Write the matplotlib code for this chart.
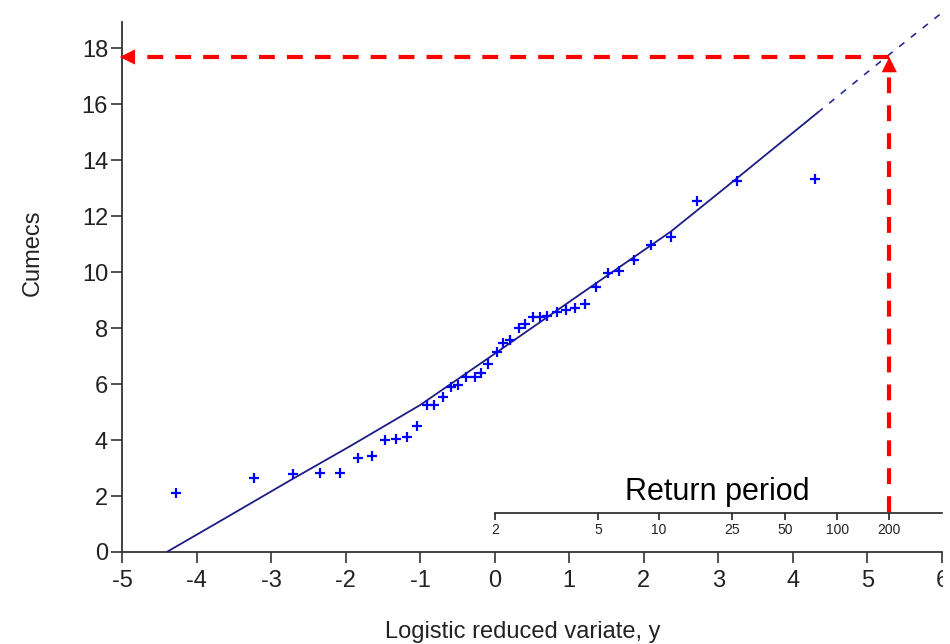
import numpy as np
import matplotlib
matplotlib.use("Agg")
import matplotlib.pyplot as plt
from matplotlib.patches import Rectangle
from matplotlib.ticker import NullLocator

plt.rcParams['font.family'] = ['Liberation Sans', 'DejaVu Sans']
plt.rcParams['axes.unicode_minus'] = False

# observed annual maximum flows vs logistic reduced variate
obs_y = [-4.28, -3.23, -2.70, -2.34, -2.08, -1.84, -1.65, -1.47, -1.33, -1.18,
         -1.04, -0.91, -0.82, -0.69, -0.59, -0.49, -0.38, -0.27, -0.18, -0.09,
         0.03, 0.11, 0.21, 0.32, 0.41, 0.51, 0.61, 0.70, 0.83, 0.96,
         1.08, 1.21, 1.36, 1.52, 1.67, 1.87, 2.09, 2.36, 2.72, 3.25, 4.30]
obs_q = [2.10, 2.63, 2.79, 2.81, 2.81, 3.35, 3.43, 4.00, 4.04, 4.12,
         4.51, 5.25, 5.25, 5.55, 5.88, 5.96, 6.26, 6.26, 6.38, 6.70,
         7.13, 7.45, 7.57, 8.01, 8.13, 8.40, 8.40, 8.43, 8.58, 8.64,
         8.70, 8.86, 9.45, 9.95, 10.05, 10.43, 10.96, 11.26, 12.55, 13.26, 13.31]

# fitted growth curve (solid over the data range, dashed when extrapolated)
fit_y = [-4.40, -3.64, -2.75, -1.94, -1.00, -0.11, 1.23, 2.36, 3.25, 4.33]
fit_q = [0.00, 1.17, 2.55, 3.78, 5.25, 6.88, 9.36, 11.44, 13.35, 15.69]
ext_y = [4.33, 5.26, 5.98]
ext_q = [15.69, 17.70, 19.22]

# return period scale and the design event
return_periods = [2, 5, 10, 25, 50, 100, 200]
design_T = 200
design_q = 17.68

rp_level = 1.39     # height of the return-period scale, in cumecs
ymax = 18.93

fig = plt.figure(figsize=(9.5, 6.44), dpi=100)
ax = fig.add_axes([122 / 950, 92 / 644, 820 / 950, 530 / 644])
ax.set_xlim(-5, 6)
ax.set_ylim(0, ymax)

for side in ['top', 'right']:
    ax.spines[side].set_visible(False)
for side in ['left', 'bottom']:
    ax.spines[side].set_color('#333333')
    ax.spines[side].set_linewidth(1.3)

ax.set_xticks(range(-5, 7))
ax.set_yticks(range(0, 19, 2))
ax.tick_params(length=8, width=1.2, colors='#333333', labelcolor='#222222', labelsize=17)
ax.tick_params(axis='y', pad=2)
ax.tick_params(axis='x', pad=5)

ax.plot(fit_y, fit_q, color='#1c1c85', lw=1.3, zorder=3)
ax.plot(ext_y, ext_q, color='#2a2a96', lw=1.2, dashes=(4, 5), clip_on=False, zorder=3)
ax.plot(obs_y, obs_q, '+', color='#0000ff', ms=7.5, mew=1.6, zorder=4)

# logistic: y = ln(T - 1)
sec = ax.secondary_xaxis(rp_level / ymax,
                         functions=(lambda y: 1 + np.exp(y),
                                    lambda T: np.log(np.clip(np.asarray(T, float) - 1, 1e-12, None))))
sec.set_xticks(return_periods)
sec.set_xticklabels([str(t) for t in return_periods])
sec.xaxis.set_minor_locator(NullLocator())
sec.spines['bottom'].set_bounds(2, 1 + np.exp(6))
sec.spines['bottom'].set_color('#222222')
sec.spines['bottom'].set_linewidth(1.2)
sec.tick_params(direction='out', length=5, width=1.2, labelsize=10, pad=2,
                colors='#222222')
ax.text(2.98, 2.14, 'Return period', fontsize=22, ha='center', va='center', color='black')

# design flood lookup
x_design = np.log(design_T - 1)
red_kw = dict(color='#ff0000', lw=3, dashes=(3.8, 2.9), zorder=6, clip_on=False)
ax.plot([x_design, x_design], [rp_level + 0.05, design_q - 0.3], **red_kw)
ax.plot([x_design, -4.8], [design_q, design_q], **red_kw)
head = dict(arrowstyle='-|>,head_length=1.1,head_width=0.55', color='#ff0000',
            lw=0, shrinkA=0, shrinkB=0, mutation_scale=10)
ax.annotate('', xy=(-5.03, design_q), xytext=(-4.6, design_q), arrowprops=head,
            annotation_clip=False, zorder=7)
ax.annotate('', xy=(x_design, design_q), xytext=(x_design, design_q - 1.0), arrowprops=head,
            annotation_clip=False, zorder=7)

fig.text(33 / 950, 1 - 253 / 644, 'Cumecs', rotation=90, fontsize=17,
         ha='center', va='center', color='#222222')
fig.text(523 / 950, 1 - 632 / 644, 'Logistic reduced variate, y', fontsize=17,
         ha='center', va='center', color='#222222')

# the plot is cut off at the right margin
fig.add_artist(Rectangle((943 / 950, 0), 7 / 950, 1, transform=fig.transFigure,
                         facecolor='white', edgecolor='none', zorder=20))

fig.savefig('out.png', dpi=100)
